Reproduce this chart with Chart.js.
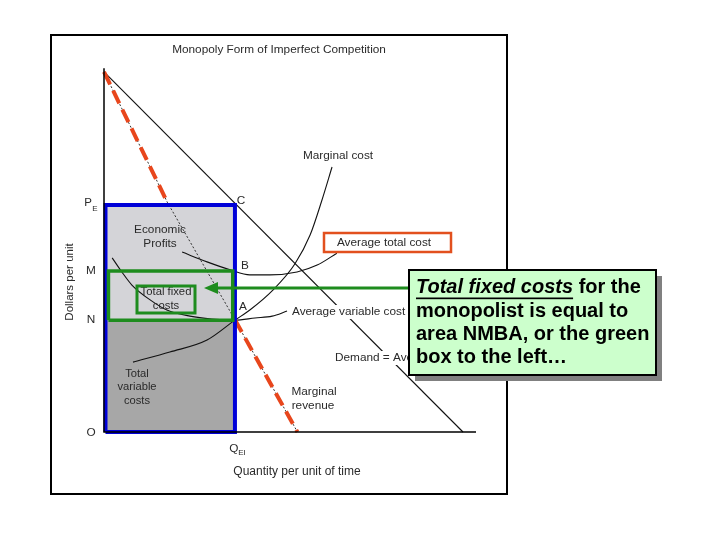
<!DOCTYPE html>
<html>
<head>
<meta charset="utf-8">
<script src="https://cdn.jsdelivr.net/npm/chart.js@4.4.1/dist/chart.umd.min.js"></script>
<style>
html,body{margin:0;padding:0;background:#fff;}
#wrap{width:720px;height:540px;position:relative;}
canvas{display:block;}
</style>
</head>
<body>
<div id="wrap"><canvas id="c" width="720" height="540"></canvas></div>
<script>
// ---- Data (economic units: quantity 0..100, dollars 0..100) ----
const demandQ = [0, 96.5];
const demandP = [99.5, 0];
const mrQ = [0, 17, 35.2, 52];
const mrP = [99.5, 63.5, 31, 0];
const mcQ = [7.8, 17.7, 27.7, 35.2, 39.2, 45.4, 51.3, 55.4, 58.6, 61.3];
const mcP = [19.3, 22.1, 25.4, 30.9, 33.7, 39.2, 46.4, 54.4, 64.1, 73.2];
const atcQ = [21.0, 27.7, 33.9, 39.2, 44.6, 51.9, 57.3, 62.6];
const atcP = [49.7, 47.0, 44.8, 43.4, 43.4, 44.2, 46.1, 49.4];
const avcQ = [2.2, 4.8, 7.5, 12.4, 16.9, 23.1, 29.0, 35.2, 40.6, 45.2, 49.2];
const avcP = [48.1, 44.2, 40.6, 36.5, 33.7, 32.0, 31.2, 30.9, 31.5, 32.0, 33.4];
const eqQuantity = 35.2;   // Q_EI
const priceE = 62.7;       // P_E
const levelM = 44.5;       // M (ATC at Q_EI)
const levelN = 30.9;       // N (AVC at Q_EI)
const yTickLabels = ['P', 'M', 'N', 'O'];
const xTickLabels = ['Q'];

const pts = (xs, ys) => xs.map((x, i) => ({x: x, y: ys[i]}));
const FONT = '"Liberation Sans", Arial, sans-serif';
const TXT = '#2a2a2a';
const LBL = '11.8px ' + FONT;

const datasets = [
  { // total variable costs area
    data: [{x:0,y:levelN},{x:eqQuantity,y:levelN}],
    showLine:true, borderWidth:0, pointRadius:0, fill:'origin',
    backgroundColor:'#a7a7a7', order:20
  },
  { // economic profits + fixed costs area
    data: [{x:0,y:priceE},{x:eqQuantity,y:priceE}],
    showLine:true, borderWidth:0, pointRadius:0, fill:{value:levelN},
    backgroundColor:'#d4d4d8', order:19
  },
  { // marginal revenue thin
    data: pts(mrQ, mrP), showLine:true, borderColor:'#333', borderWidth:1,
    borderDash:[2,2], pointRadius:0, fill:false, order:15
  },
  { // demand
    data: pts(demandQ, demandP), showLine:true, borderColor:'#111', borderWidth:1.1,
    pointRadius:0, fill:false, order:14
  },
  { // MC
    data: pts(mcQ, mcP), showLine:true, borderColor:'#111', borderWidth:1.1,
    pointRadius:0, fill:false, cubicInterpolationMode:'monotone', order:14
  },
  { // ATC
    data: pts(atcQ, atcP), showLine:true, borderColor:'#111', borderWidth:1.1,
    pointRadius:0, fill:false, cubicInterpolationMode:'monotone', order:14
  },
  { // AVC
    data: pts(avcQ, avcP), showLine:true, borderColor:'#111', borderWidth:1.1,
    pointRadius:0, fill:false, cubicInterpolationMode:'monotone', order:14
  },
  { // red MR upper
    data: pts(mrQ.slice(0,2), mrP.slice(0,2)), showLine:true, borderColor:'#e8461c',
    borderWidth:4, borderDash:[14,7], pointRadius:0, fill:false, order:10
  },
  { // red MR lower
    data: pts(mrQ.slice(2), mrP.slice(2)), showLine:true, borderColor:'#e8461c',
    borderWidth:4, borderDash:[14,7], pointRadius:0, fill:false, order:10
  },
  { // blue rectangle (total revenue)
    data: [{x:0.4,y:0},{x:0.4,y:priceE},{x:eqQuantity,y:priceE},{x:eqQuantity,y:0},{x:0.4,y:0}],
    showLine:true, borderColor:'#0000d8', borderWidth:4, pointRadius:0, fill:false,
    borderJoinStyle:'miter', order:8
  },
  { // green rectangle (total fixed costs)
    data: [{x:1.2,y:levelN},{x:1.2,y:levelM},{x:eqQuantity-0.6,y:levelM},{x:eqQuantity-0.6,y:levelN},{x:1.2,y:levelN}],
    showLine:true, borderColor:'#1e8c1e', borderWidth:3.5, pointRadius:0, fill:false,
    borderJoinStyle:'miter', order:6
  }
];

function text(ctx, s, x, y, opts) {
  opts = opts || {};
  ctx.save();
  ctx.font = (opts.font || LBL);
  ctx.fillStyle = opts.color || TXT;
  ctx.textAlign = opts.align || 'center';
  ctx.textBaseline = 'middle';
  if (opts.bg) {
    const w = ctx.measureText(s).width;
    const x0 = opts.align === 'left' ? x : x - w/2;
    ctx.fillStyle = opts.bg;
    ctx.fillRect(x0 - 2, y - 7, w + 4, 14);
    ctx.fillStyle = opts.color || TXT;
  }
  ctx.fillText(s, x, y);
  ctx.restore();
}

const decor = {
  id: 'decor',
  beforeDraw(chart) {
    const ctx = chart.ctx;
    ctx.save();
    ctx.fillStyle = '#fff';
    ctx.fillRect(0, 0, 720, 540);
    ctx.strokeStyle = '#000';
    ctx.lineWidth = 2;
    ctx.strokeRect(51, 35, 456, 459);
    ctx.restore();
  },
  afterDatasetsDraw(chart) {
    const ctx = chart.ctx;
    const xs = chart.scales.x, ys = chart.scales.y;
    const X = v => xs.getPixelForValue(v), Y = v => ys.getPixelForValue(v);
    // axes
    ctx.save();
    ctx.strokeStyle = '#000';
    ctx.lineWidth = 1.5;
    ctx.beginPath();
    ctx.moveTo(X(0), Y(100.5));
    ctx.lineTo(X(0), Y(0));
    ctx.lineTo(X(100), Y(0));
    ctx.stroke();
    ctx.restore();

    // title
    text(ctx, 'Monopoly Form of Imperfect Competition', 279, 50);
    // axis titles
    text(ctx, 'Quantity per unit of time', 297, 472, {font:'12px ' + FONT});
    ctx.save();
    ctx.translate(70, 282);
    ctx.rotate(-Math.PI/2);
    text(ctx, 'Dollars per unit', 0, 0, {font:'11.5px ' + FONT});
    ctx.restore();

    // y labels
    text(ctx, yTickLabels[0], X(0) - 16, Y(priceE) - 2, {font:'11.5px ' + FONT});
    text(ctx, 'E', X(0) - 9, Y(priceE) + 4, {font:'8px ' + FONT});
    text(ctx, yTickLabels[1], X(0) - 13, Y(levelM));
    text(ctx, yTickLabels[2], X(0) - 13, Y(levelN));
    text(ctx, yTickLabels[3], X(0) - 13, Y(0) + 1);
    // x label
    text(ctx, xTickLabels[0], X(eqQuantity) - 1, Y(0) + 17);
    text(ctx, 'EI', X(eqQuantity) + 7, Y(0) + 21, {font:'8px ' + FONT});

    // point labels
    text(ctx, 'C', X(eqQuantity) + 6, Y(priceE) - 4);
    text(ctx, 'B', X(eqQuantity) + 10, Y(levelM) - 5);
    text(ctx, 'A', X(eqQuantity) + 8, Y(levelN) - 13);

    // area labels
    text(ctx, 'Economic', 160, 230);
    text(ctx, 'Profits', 160, 244);
    text(ctx, 'Total fixed', 166, 292, {font:'11.3px ' + FONT});
    text(ctx, 'costs', 166, 306, {font:'11.3px ' + FONT});
    text(ctx, 'Total', 137, 374, {font:'11.2px ' + FONT});
    text(ctx, 'variable', 137, 387, {font:'11.2px ' + FONT});
    text(ctx, 'costs', 137, 401, {font:'11.2px ' + FONT});

    // small green box around fixed cost label
    ctx.save();
    ctx.strokeStyle = '#1e8c1e';
    ctx.lineWidth = 3;
    ctx.strokeRect(137, 286, 58, 27);
    ctx.restore();

    // curve labels
    text(ctx, 'Marginal cost', 338, 156, {bg:'#fff'});
    text(ctx, 'Average variable cost', 292, 312, {align:'left', bg:'#fff'});
    text(ctx, 'Demand = Average revenue', 335, 358, {align:'left', bg:'#fff'});
    text(ctx, 'Marginal', 314, 392);
    text(ctx, 'revenue', 313, 406);

    // average total cost box
    ctx.save();
    ctx.fillStyle = '#fff';
    ctx.fillRect(324, 233, 127, 19);
    ctx.strokeStyle = '#e2501e';
    ctx.lineWidth = 2.5;
    ctx.strokeRect(324, 233, 127, 19);
    ctx.restore();
    text(ctx, 'Average total cost', 384, 243);
  },
  afterDraw(chart) {
    const ctx = chart.ctx;
    // arrow
    ctx.save();
    ctx.strokeStyle = '#1e8c1e';
    ctx.fillStyle = '#1e8c1e';
    ctx.lineWidth = 3;
    ctx.beginPath();
    ctx.moveTo(410, 288);
    ctx.lineTo(215, 288);
    ctx.stroke();
    ctx.beginPath();
    ctx.moveTo(204, 288);
    ctx.lineTo(218, 282);
    ctx.lineTo(218, 294);
    ctx.closePath();
    ctx.fill();
    ctx.restore();

    // callout
    const bx = 409, by = 270, bw = 247, bh = 105;
    ctx.save();
    ctx.fillStyle = '#808080';
    ctx.fillRect(bx + 6, by + 6, bw, bh);
    ctx.fillStyle = '#ccffcc';
    ctx.fillRect(bx, by, bw, bh);
    ctx.strokeStyle = '#000';
    ctx.lineWidth = 2;
    ctx.strokeRect(bx, by, bw, bh);
    ctx.fillStyle = '#000';
    ctx.textBaseline = 'middle';
    ctx.textAlign = 'left';
    const tx = 416;
    ctx.font = 'italic bold 20px ' + FONT;
    const t1 = 'Total fixed costs';
    ctx.fillText(t1, tx, 287);
    const w1 = ctx.measureText(t1).width;
    ctx.fillRect(tx, 297.5, w1, 1.7);
    ctx.font = 'bold 20px ' + FONT;
    ctx.fillText(' for the', tx + w1, 287);
    ctx.fillText('monopolist is equal to', tx, 311);
    ctx.fillText('area NMBA, or the green', tx, 334);
    ctx.fillText('box to the left\u2026', tx, 357);
    ctx.restore();
  }
};

new Chart(document.getElementById('c'), {
  type: 'scatter',
  data: { datasets: datasets },
  options: {
    responsive: false,
    animation: false,
    layout: { padding: { left: 104, right: 244, top: 70, bottom: 108 } },
    scales: {
      x: { type: 'linear', min: 0, max: 100, display: false },
      y: { type: 'linear', min: 0, max: 100, display: false }
    },
    plugins: { legend: { display: false }, tooltip: { enabled: false }, title: { display: false } },
    elements: { line: { tension: 0 } },
    clip: false
  },
  plugins: [decor]
});
</script>
</body>
</html>
